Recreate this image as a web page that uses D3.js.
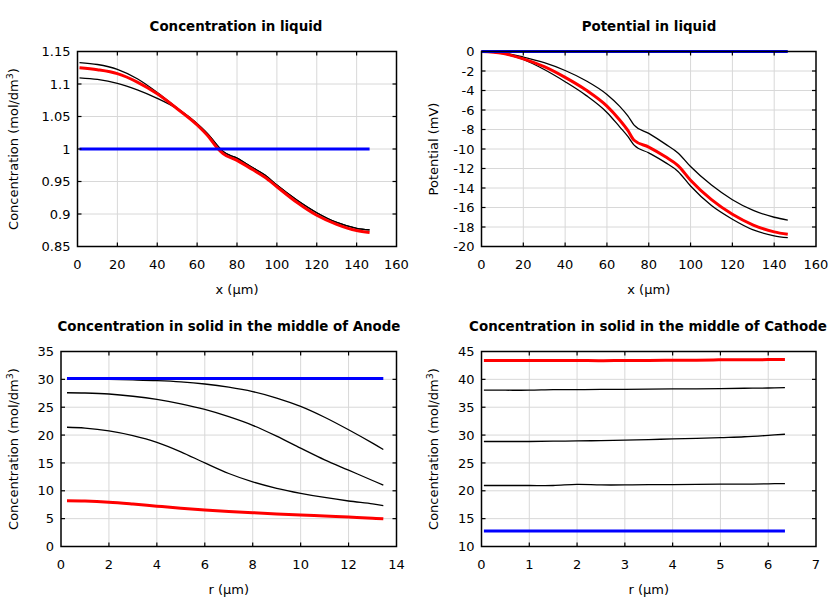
<!DOCTYPE html>
<html><head><meta charset="utf-8">
<script src="https://cdn.jsdelivr.net/npm/d3@7"></script>
<style>body{margin:0;background:#fff}svg{display:block}text{font-family:"DejaVu Sans",sans-serif}</style>
</head><body>
<svg id="c" width="840" height="600"></svg>
<script>
// ---------- DATA ----------
// Panel 1: Concentration in liquid
const liqX = [1, 10, 20, 30, 40, 50, 60, 66, 70, 73, 80, 88, 94, 100, 110, 120, 130, 140, 146.5];
const liqConcUpper = [1.133, 1.130, 1.1225, 1.108, 1.087, 1.063, 1.039, 1.021, 1.006, 0.996, 0.986, 0.971, 0.960, 0.9445, 0.9215, 0.902, 0.887, 0.878, 0.8755];
const liqConcRed   = [1.125, 1.122, 1.116, 1.103, 1.085, 1.062, 1.037, 1.018, 1.002, 0.993, 0.9825, 0.968, 0.9565, 0.942, 0.918, 0.898, 0.884, 0.8745, 0.8715];
const liqConcLower = [1.1095, 1.107, 1.101, 1.091, 1.078, 1.062, 1.039, 1.021, 1.006, 0.996, 0.986, 0.971, 0.960, 0.9445, 0.9215, 0.902, 0.887, 0.878, 0.8755];
const liqConcInit = 1.0;
// Panel 2: Potential in liquid
const potX = [0, 10, 20, 30, 40, 50, 60, 66, 70, 73, 80, 88, 94, 100, 110, 120, 130, 140, 146.5];
const potUpper = [0, -0.13, -0.57, -1.15, -1.95, -3.0, -4.4, -5.6, -6.6, -7.55, -8.4, -9.5, -10.4, -11.8, -13.7, -15.2, -16.3, -17.0, -17.3];
const potRed   = [0, -0.18, -0.75, -1.55, -2.65, -3.95, -5.6, -7.0, -8.1, -9.1, -9.8, -10.8, -11.7, -13.2, -15.2, -16.7, -17.8, -18.5, -18.75];
const potLower = [0, -0.21, -0.82, -1.85, -3.1, -4.5, -6.25, -7.7, -8.7, -9.6, -10.4, -11.4, -12.3, -13.8, -15.8, -17.2, -18.3, -18.9, -19.1];
const potInit = 0;
// Panel 3: Anode solid concentration
const anodeR = [0.25, 1, 2, 3, 4, 5, 6, 7, 8, 9, 10, 11, 12, 13, 13.45];
const anodeB1 = [30.07, 30.06, 30.0, 29.9, 29.77, 29.55, 29.17, 28.6, 27.8, 26.65, 25.15, 23.2, 20.95, 18.55, 17.4];
const anodeB2 = [27.6, 27.55, 27.37, 26.97, 26.4, 25.6, 24.6, 23.3, 21.75, 19.8, 17.65, 15.55, 13.7, 11.85, 11.0];
const anodeB3 = [21.4, 21.25, 20.75, 19.9, 18.7, 17.0, 15.0, 13.1, 11.6, 10.45, 9.55, 8.8, 8.17, 7.65, 7.33];
const anodeRed = [8.2, 8.15, 7.95, 7.62, 7.24, 6.88, 6.56, 6.3, 6.07, 5.85, 5.65, 5.47, 5.28, 5.08, 4.97];
const anodeInit = 30.15;
// Panel 4: Cathode solid concentration
const cathR = [0.05, 0.5, 1, 1.5, 2, 2.5, 3, 3.5, 4, 4.5, 5, 5.5, 6, 6.35];
const cathRed = [43.4, 43.4, 43.4, 43.4, 43.4, 43.35, 43.4, 43.4, 43.45, 43.45, 43.5, 43.5, 43.55, 43.55];
const cathB1 = [38.05, 38.05, 38.05, 38.15, 38.15, 38.2, 38.2, 38.25, 38.3, 38.3, 38.35, 38.4, 38.45, 38.5];
const cathB2 = [28.85, 28.85, 28.85, 28.9, 28.95, 29.0, 29.1, 29.2, 29.3, 29.4, 29.55, 29.7, 29.95, 30.15];
const cathB3 = [20.95, 20.95, 20.95, 20.95, 21.15, 21.05, 21.05, 21.1, 21.1, 21.15, 21.2, 21.2, 21.25, 21.3];
const cathInit = 12.8;
// Ticks
const ticksX160 = [0, 20, 40, 60, 80, 100, 120, 140, 160];
const ticksConc = [0.85, 0.9, 0.95, 1, 1.05, 1.1, 1.15];
const ticksPot = [0, -2, -4, -6, -8, -10, -12, -14, -16, -18, -20];
const ticksR14 = [0, 2, 4, 6, 8, 10, 12, 14];
const ticksAnode = [0, 5, 10, 15, 20, 25, 30, 35];
const ticksR7 = [0, 1, 2, 3, 4, 5, 6, 7];
const ticksCath = [10, 15, 20, 25, 30, 35, 40, 45];

// ---------- DRAW ----------
const svg = d3.select("#c");
const fmt = d => String(d);

function panel(o) {
  const g = svg.append("g");
  const x = d3.scaleLinear().domain(o.xd).range([o.l, o.r]);
  const y = d3.scaleLinear().domain(o.yd).range([o.b, o.t]);
  const innerX = o.xt.filter(v => v !== o.xd[0] && v !== o.xd[1]);
  const innerY = o.yt.filter(v => v !== o.yd[0] && v !== o.yd[1]);
  // grid
  g.append("g").selectAll("line").data(innerX).join("line")
    .attr("x1", d => x(d)).attr("x2", d => x(d)).attr("y1", o.t).attr("y2", o.b)
    .attr("stroke", "#d8d8d8").attr("stroke-width", 1);
  g.append("g").selectAll("line").data(innerY).join("line")
    .attr("y1", d => y(d)).attr("y2", d => y(d)).attr("x1", o.l).attr("x2", o.r)
    .attr("stroke", "#d8d8d8").attr("stroke-width", 1);
  // lines
  const line = d3.line().x(d => x(d[0])).y(d => y(d[1])).curve(o.curve);
  o.series.forEach(s => {
    const pts = s.xs.map((xv, i) => [xv, Array.isArray(s.ys) ? s.ys[i] : s.ys]);
    g.append("path").attr("d", line(pts)).attr("fill", "none")
      .attr("stroke", s.c).attr("stroke-width", s.w).attr("stroke-linejoin", "round");
  });
  // frame
  g.append("rect").attr("x", o.l).attr("y", o.t).attr("width", o.r - o.l).attr("height", o.b - o.t)
    .attr("fill", "none").attr("stroke", "#000").attr("stroke-width", 1.5);
  // inward ticks (all four sides)
  const tl = 4;
  innerX.forEach(v => {
    g.append("line").attr("x1", x(v)).attr("x2", x(v)).attr("y1", o.b).attr("y2", o.b - tl).attr("stroke", "#000").attr("stroke-width", 1.2);
    g.append("line").attr("x1", x(v)).attr("x2", x(v)).attr("y1", o.t).attr("y2", o.t + tl).attr("stroke", "#000").attr("stroke-width", 1.2);
  });
  innerY.forEach(v => {
    g.append("line").attr("y1", y(v)).attr("y2", y(v)).attr("x1", o.l).attr("x2", o.l + tl).attr("stroke", "#000").attr("stroke-width", 1.2);
    g.append("line").attr("y1", y(v)).attr("y2", y(v)).attr("x1", o.r).attr("x2", o.r - tl).attr("stroke", "#000").attr("stroke-width", 1.2);
  });
  // tick labels
  g.append("g").selectAll("text").data(o.xt).join("text")
    .attr("x", d => x(d)).attr("y", o.b + 22).attr("text-anchor", "middle")
    .attr("font-size", 13).attr("fill", "#000").text(fmt);
  g.append("g").selectAll("text").data(o.yt).join("text")
    .attr("x", o.l - 7).attr("y", d => y(d) + 4.7).attr("text-anchor", "end")
    .attr("font-size", 13).attr("fill", "#000").text(fmt);
  // title
  g.append("text").attr("x", o.tx).attr("y", o.t - 21).attr("text-anchor", "middle")
    .attr("font-size", 13.4).attr("font-weight", "bold").text(o.title);
  // x label
  g.append("text").attr("x", (o.l + o.r) / 2).attr("y", o.b + 47.5).attr("text-anchor", "middle")
    .attr("font-size", 13).text(o.xlabel);
  // y label
  const yl = g.append("text").attr("transform", `translate(${o.ylx},${(o.t + o.b) / 2}) rotate(-90)`)
    .attr("text-anchor", "middle").attr("font-size", 13);
  if (o.ysup) {
    yl.append("tspan").text(o.ylabel);
    yl.append("tspan").attr("dy", -5).attr("font-size", 9.5).text(o.ysup);
    yl.append("tspan").attr("dy", 5).text(o.yend);
  } else yl.text(o.ylabel);
}

const BK = "#000", RD = "#ff0000", BL = "#0000ff";
panel({
  l: 77.5, r: 396.5, t: 51.5, b: 246.5, xd: [0, 160], yd: [0.85, 1.15], xt: ticksX160, yt: ticksConc,
  title: "Concentration in liquid", tx: 236, xlabel: "x (µm)", curve: d3.curveMonotoneX,
  ylx: 18, ylabel: "Concentration (mol/dm", ysup: "3", yend: ")",
  series: [
    {xs: liqX, ys: liqConcUpper, c: BK, w: 1.3},
    {xs: liqX, ys: liqConcLower, c: BK, w: 1.3},
    {xs: liqX, ys: liqConcRed, c: RD, w: 3},
    {xs: [liqX[0], liqX[liqX.length - 1]], ys: liqConcInit, c: BL, w: 3}
  ]
});
panel({
  l: 481.5, r: 816, t: 51.5, b: 246.5, xd: [0, 160], yd: [-20, 0], xt: ticksX160, yt: ticksPot,
  title: "Potential in liquid", tx: 649, xlabel: "x (µm)", curve: d3.curveMonotoneX,
  ylx: 438, ylabel: "Potential (mV)",
  series: [
    {xs: potX, ys: potUpper, c: BK, w: 1.3},
    {xs: potX, ys: potLower, c: BK, w: 1.3},
    {xs: potX, ys: potRed, c: RD, w: 3},
    {xs: [potX[0], potX[potX.length - 1]], ys: potInit, c: BL, w: 3}
  ]
});
panel({
  l: 61, r: 396.5, t: 351.5, b: 546.5, xd: [0, 14], yd: [0, 35], xt: ticksR14, yt: ticksAnode,
  title: "Concentration in solid in the middle of Anode", tx: 229, xlabel: "r (µm)", curve: d3.curveCatmullRom.alpha(0.5),
  ylx: 18, ylabel: "Concentration (mol/dm", ysup: "3", yend: ")",
  series: [
    {xs: anodeR, ys: anodeB1, c: BK, w: 1.3},
    {xs: anodeR, ys: anodeB2, c: BK, w: 1.3},
    {xs: anodeR, ys: anodeB3, c: BK, w: 1.3},
    {xs: anodeR, ys: anodeRed, c: RD, w: 3},
    {xs: [anodeR[0], anodeR[anodeR.length - 1]], ys: anodeInit, c: BL, w: 3}
  ]
});
panel({
  l: 481.5, r: 816, t: 351.5, b: 546.5, xd: [0, 7], yd: [10, 45], xt: ticksR7, yt: ticksCath,
  title: "Concentration in solid in the middle of Cathode", tx: 648, xlabel: "r (µm)", curve: d3.curveCatmullRom.alpha(0.5),
  ylx: 438, ylabel: "Concentration (mol/dm", ysup: "3", yend: ")",
  series: [
    {xs: cathR, ys: cathB1, c: BK, w: 1.3},
    {xs: cathR, ys: cathB2, c: BK, w: 1.3},
    {xs: cathR, ys: cathB3, c: BK, w: 1.3},
    {xs: cathR, ys: cathRed, c: RD, w: 3},
    {xs: [cathR[0], cathR[cathR.length - 1]], ys: cathInit, c: BL, w: 3}
  ]
});
</script>
</body></html>
